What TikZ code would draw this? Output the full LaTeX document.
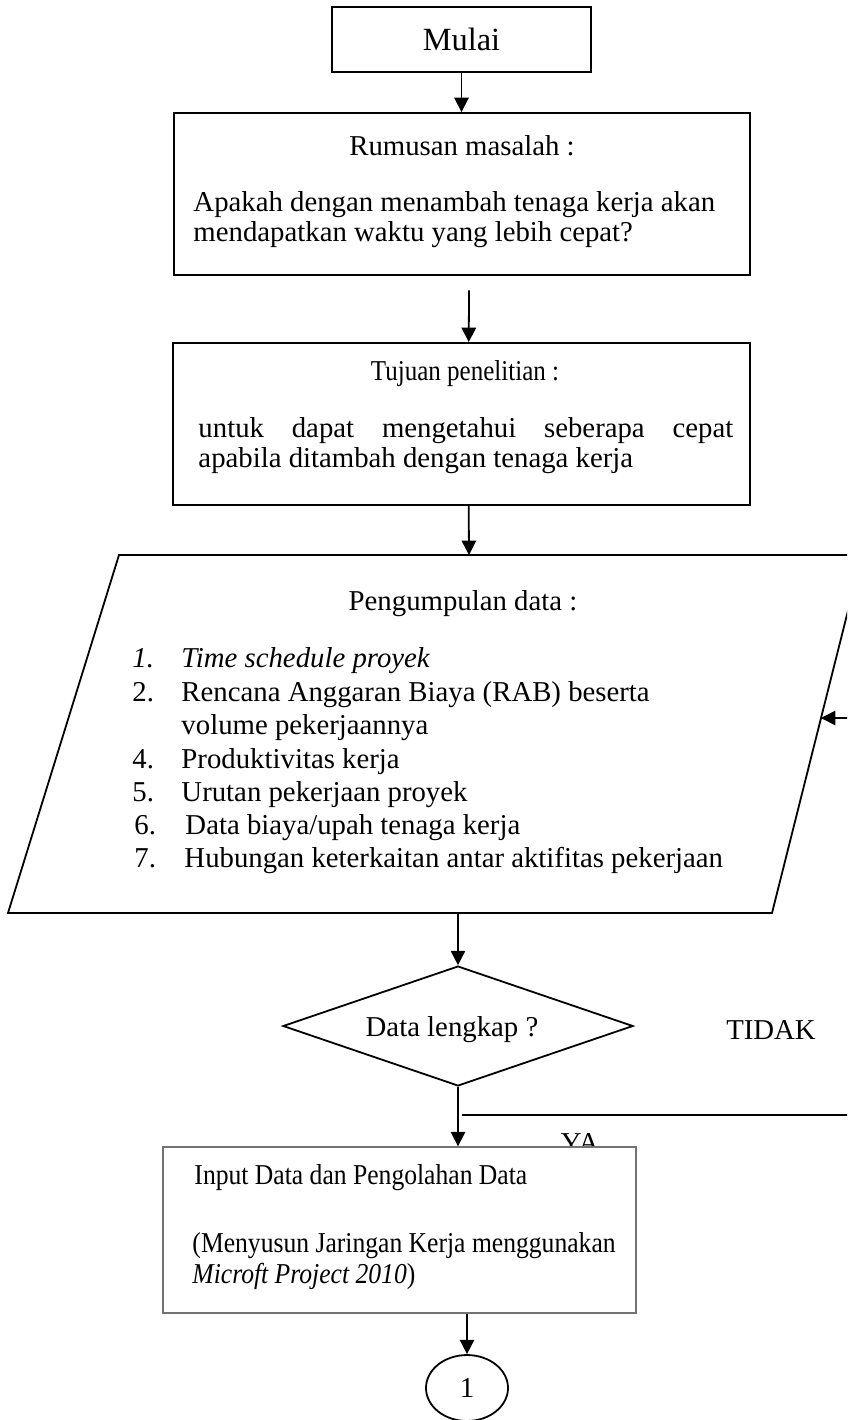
\documentclass[tikz,border=0pt]{standalone}
\usepackage{fontspec}
\setmainfont{Liberation Serif}
\newfontfamily\sempit[FakeStretch=0.89]{Liberation Serif}
\newfontfamily\sempitT[FakeStretch=0.87]{Liberation Serif}
\usetikzlibrary{arrows.meta,shapes.geometric,positioning}

\tikzset{
  flow/.style={->,>={Triangle[length=6pt,width=6pt]},line width=0.75pt},
  box/.style={draw,rectangle,line width=0.75pt,inner sep=0pt,font=\fontsize{12}{13.8}\selectfont},
  txt/.style={inner sep=0pt,font=\fontsize{12}{13.8}\selectfont},
}

\begin{document}
\begin{tikzpicture}[x=0.417pt,y=-0.417pt]
\useasboundingbox (0,0) rectangle (847,1420);
\clip (0,0) rectangle (847,1420);

% mulai
\node[box,minimum width=108pt,minimum height=27.1pt,font=\fontsize{13.5}{15}\selectfont] (mulai) at (461.5,39.5) {Mulai};

% rumusan masalah
\node[box,minimum width=240.2pt,minimum height=67.6pt] (rumusan) at (462,194) {};
\node[txt,anchor=base] (rumT) at (462,155) {Rumusan masalah :};
\node[txt,anchor=base west] (rum1) at (193,211) {Apakah dengan menambah tenaga kerja akan};
\node[txt,anchor=base west] (rum2) at (193,241) {mendapatkan waktu yang lebih cepat?};

% tujuan penelitian
\node[box,minimum width=240.6pt,minimum height=67.6pt] (tujuan) at (461.5,424) {};
\node[txt,anchor=base] (tujT) at (465,380) {\sempitT Tujuan penelitian :};
\node[txt,anchor=base west] (tuj1) at (198,437) {\makebox[223pt][s]{untuk dapat mengetahui seberapa cepat}};
\node[txt,anchor=base west] (tuj2) at (198,467) {apabila ditambah dengan tenaga kerja};

% pengumpulan data (jajaran genjang)
\coordinate (pTL) at (119,555);
\coordinate (pTR) at (862,555);
\coordinate (pBR) at (772,913);
\coordinate (pBL) at (8,913);
\coordinate (pTop) at (469,555);
\coordinate (pBot) at (458,913);
\coordinate (pIn) at (821,718);
\draw[line width=0.75pt] (pTL) -- (pTR) -- (pBR) -- (pBL) -- cycle;
\node[txt,anchor=base] (pengT) at (463,610) {Pengumpulan data :};
\node[txt,anchor=base west] (n1) at (132,667) {\textit{1.}};
\node[txt,anchor=base west] (i1) at (181,667) {\textit{Time schedule proyek}};
\node[txt,anchor=base west] (n2) at (132,701) {2.};
\node[txt,anchor=base west] (i2) at (181,701) {Rencana Anggaran Biaya (RAB) beserta};
\node[txt,anchor=base west] (i2b) at (181,734) {volume pekerjaannya};
\node[txt,anchor=base west] (n4) at (132,768) {4.};
\node[txt,anchor=base west] (i4) at (181,768) {Produktivitas kerja};
\node[txt,anchor=base west] (n5) at (132,801) {5.};
\node[txt,anchor=base west] (i5) at (181,801) {Urutan pekerjaan proyek};
\node[txt,anchor=base west] (n6) at (134,834) {6.};
\node[txt,anchor=base west] (i6) at (185,834) {Data biaya/upah tenaga kerja};
\node[txt,anchor=base west] (n7) at (134,867) {7.};
\node[txt,anchor=base west] (i7) at (184,867) {Hubungan keterkaitan antar aktifitas pekerjaan};

% keputusan
\node[diamond,draw,line width=0.75pt,aspect=2.9,inner sep=0pt,minimum width=146pt,minimum height=50pt] (cek) at (458,1026) {};
\node[txt] (cekT) at (452,1030) {Data lengkap ?};
\node[txt] (tidak) at (771,1030) {TIDAK};
\node[txt] (ya) at (580,1143) {YA};

% input data
\node[box,draw=black!55,line width=0.6pt,fill=white,minimum width=197.2pt,minimum height=69.2pt] (input) at (399.5,1230) {};
\node[txt,anchor=base west] (inp1) at (194,1184) {\sempit Input Data dan Pengolahan Data};
\node[txt,anchor=base west] (inp2) at (192,1252) {\sempit (Menyusun Jaringan Kerja menggunakan};
\node[txt,anchor=base west] (inp3) at (192,1283) {\sempit\textit{Microft Project 2010})};

% penghubung
\node[ellipse,draw,line width=0.75pt,inner sep=0pt,minimum width=34.2pt,minimum height=27.5pt,font=\fontsize{12}{13.8}\selectfont] (satu) at (467,1388) {1};

% panah
\coordinate (ya0) at (462,1115);
\coordinate (r1) at (875,1115);
\coordinate (r2) at (875,718);
\draw[flow] (mulai.south) -- (mulai.south |- rumusan.north);
\draw[flow,shorten <=6pt] ([xshift=3pt]rumusan.south) -- ([xshift=3pt]tujuan.north);
\draw[flow] ([xshift=3pt]tujuan.south) -- (pTop);
\draw[flow] (pBot) -- (cek.north);
\draw[flow] (cek.south) -- (cek.south |- input.north);
\draw[flow] (ya0) -- (r1) -- (r2) -- (pIn);
\draw[flow] (input.south -| satu.north) -- (satu.north);
\end{tikzpicture}
\end{document}
